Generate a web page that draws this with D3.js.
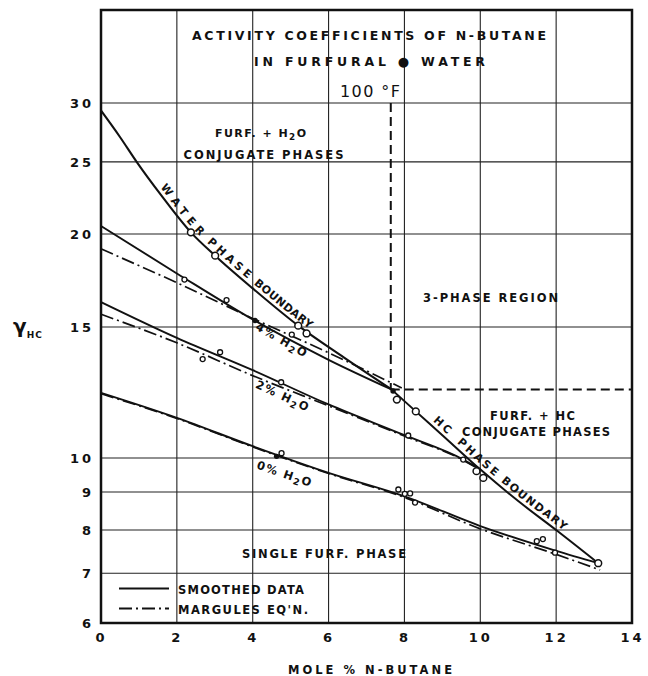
<!DOCTYPE html>
<html>
<head>
<meta charset="utf-8">
<script src="https://cdn.jsdelivr.net/npm/d3@7"></script>
<style>
  html, body { margin: 0; padding: 0; background: #fff; }
  svg { display: block; }
  text { font-family: "DejaVu Sans", "Liberation Sans", sans-serif; fill: #111; }
</style>
</head>
<body>
<svg id="chart" width="648" height="676"></svg>
<script>
// Axis ticks
const xTicks = [0, 2, 4, 6, 8, 10, 12, 14];
const yTicks = [6, 7, 8, 9, 10, 15, 20, 25, 30];

// Phase boundaries (solid) — [mole % n-butane, gamma]
const waterBoundary = [[0, 29.3], [0.5, 27.0], [0.94, 25.0], [1.6, 22.5], [2.37, 20.1], [3.01, 18.7], [4, 16.9], [5.2, 15.06], [6.4, 13.65], [7.66, 12.36]];
const hcBoundary = [[7.66, 12.36], [8.3, 11.55], [9.0, 10.73], [9.99, 9.66], [11.0, 8.75], [12.0, 8.0], [13.11, 7.22]];

// Smoothed data at constant water content
const fourPct = [[0, 20.5], [2, 17.7], [4, 15.35], [6, 13.55], [7.66, 12.36]];
const twoPct = [[0, 16.2], [2, 14.5], [4, 13.12], [6, 11.8], [8, 10.73], [9.55, 9.95], [9.99, 9.66]];
const zeroPct = [[0, 12.23], [2, 11.32], [4, 10.37], [6, 9.55], [8, 8.88], [10, 8.1], [12, 7.5], [13.11, 7.22]];

// Margules equation curves
const fourPctM = [[0, 19.1], [2, 17.2], [4, 15.4], [6, 13.85], [7.93, 12.42]];
const twoPctM = [[0, 15.6], [2, 14.28], [4, 12.9], [6, 11.75], [8, 10.7], [9.55, 9.93], [9.99, 9.64]];
const zeroPctM = [[0, 12.2], [2, 11.3], [4, 10.35], [6, 9.53], [8, 8.85], [10, 8.03], [12, 7.42], [13.16, 7.07]];

// Experimental points
const boundaryPts = [[2.37, 20.1], [3.01, 18.7], [5.2, 15.06], [5.42, 14.7], [7.8, 11.98], [8.3, 11.55], [9.9, 9.6], [10.08, 9.4], [13.11, 7.22]];
const solutionPts = [[2.2, 17.37], [3.31, 16.3], [5.03, 14.65], [2.68, 13.58], [3.14, 13.87], [4.75, 12.64], [8.1, 10.72], [9.55, 9.95], [4.76, 10.15], [7.84, 9.07], [8.01, 8.95], [8.15, 8.96], [8.28, 8.71], [11.49, 7.73], [11.65, 7.78], [11.97, 7.46]];
const filledPts = [[4.06, 15.3], [4.63, 10.05], [7.7, 12.3]];

// Three-phase region corner
const threePhaseX = 7.64;
const threePhaseY = 12.36;
const threePhaseTop = 30;

const svg = d3.select("#chart");
const x = d3.scaleLinear().domain([0, 14]).range([101, 632]);
const y = d3.scaleLog().domain([6, 40]).range([623, 10]);
const ink = "#111";
const FONT = "DejaVu Sans, Liberation Sans, sans-serif";

// Grid
const grid = svg.append("g").attr("stroke", "#222").attr("stroke-width", 1.1);
grid.selectAll("line.v").data(xTicks).join("line")
  .attr("x1", d => x(d)).attr("x2", d => x(d))
  .attr("y1", y(40)).attr("y2", y(6));
grid.selectAll("line.h").data(yTicks).join("line")
  .attr("x1", x(0)).attr("x2", x(14))
  .attr("y1", d => y(d)).attr("y2", d => y(d));

// Frame
svg.append("rect")
  .attr("x", x(0)).attr("y", y(40))
  .attr("width", x(14) - x(0)).attr("height", y(6) - y(40))
  .attr("fill", "none").attr("stroke", ink).attr("stroke-width", 2.5);

// Axes
const xAxis = svg.append("g").attr("transform", `translate(0,${y(6)})`)
  .call(d3.axisBottom(x).tickValues(xTicks).tickSize(0).tickPadding(10).tickFormat(d3.format("d")));
const yAxis = svg.append("g").attr("transform", `translate(${x(0) - 7},0)`)
  .call(d3.axisLeft(y).tickValues(yTicks).tickSize(0).tickPadding(0).tickFormat(d3.format("d")));
[xAxis, yAxis].forEach(a => {
  a.select(".domain").remove();
  a.selectAll("text").attr("font-family", FONT)
    .attr("font-size", 13).attr("font-weight", "bold").attr("fill", ink)
    .attr("letter-spacing", 3);
});

// Three-phase region boundaries (dashed)
const dash = svg.append("g").attr("stroke", ink).attr("stroke-width", 2).attr("stroke-dasharray", "9,5").attr("fill", "none");
dash.append("line").attr("x1", x(threePhaseX)).attr("x2", x(threePhaseX)).attr("y1", y(threePhaseTop)).attr("y2", y(threePhaseY));
dash.append("line").attr("x1", x(threePhaseX)).attr("x2", x(14)).attr("y1", y(threePhaseY)).attr("y2", y(threePhaseY));

// Curves
const line = d3.line().x(d => x(d[0])).y(d => y(d[1])).curve(d3.curveMonotoneX);
const curves = svg.append("g").attr("fill", "none").attr("stroke", ink).attr("stroke-linecap", "round");
curves.append("path").attr("id", "waterPath").attr("d", line(waterBoundary)).attr("stroke-width", 2.1);
curves.append("path").attr("id", "hcPath").attr("d", line(hcBoundary)).attr("stroke-width", 2);
[fourPct, twoPct, zeroPct].forEach(s => curves.append("path").attr("d", line(s)).attr("stroke-width", 1.9));
[fourPctM, twoPctM, zeroPctM].forEach(s => curves.append("path").attr("d", line(s))
  .attr("stroke-width", 1.7).attr("stroke-dasharray", "13,4,2,4").attr("stroke-linecap", "butt"));

// Points
svg.append("g").selectAll("circle").data(boundaryPts).join("circle")
  .attr("cx", d => x(d[0])).attr("cy", d => y(d[1])).attr("r", 3.4)
  .attr("fill", "#fff").attr("stroke", ink).attr("stroke-width", 1.5);
svg.append("g").selectAll("circle").data(solutionPts).join("circle")
  .attr("cx", d => x(d[0])).attr("cy", d => y(d[1])).attr("r", 2.5)
  .attr("fill", "#fff").attr("stroke", ink).attr("stroke-width", 1.3);
svg.append("g").selectAll("circle").data(filledPts).join("circle")
  .attr("cx", d => x(d[0])).attr("cy", d => y(d[1])).attr("r", 2.7).attr("fill", ink);

// Helpers for lettering
function label(txt, cx, base, size, width, weight) {
  const t = svg.append("text").attr("x", cx).attr("y", base).attr("text-anchor", "middle")
    .attr("font-size", size).attr("font-weight", weight || "bold").text(txt);
  if (width) t.attr("textLength", width).attr("lengthAdjust", "spacing");
  return t;
}
function waterLabel(g, pre, post) {
  g.append("tspan").text(pre);
  g.append("tspan").attr("dy", 3).attr("font-size", "0.8em").text("2");
  g.append("tspan").attr("dy", -3).text(post);
}

// Title block
label("ACTIVITY COEFFICIENTS OF N-BUTANE", 369, 39.5, 12.5, 354);
const t2 = svg.append("text").attr("x", 254).attr("y", 65.5).attr("font-size", 12.5).attr("font-weight", "bold")
  .attr("textLength", 231).attr("lengthAdjust", "spacing");
t2.append("tspan").text("IN  FURFURAL  ");
t2.append("tspan").attr("font-size", 13).text("\u25CF");
t2.append("tspan").text("  WATER");
label("100 \u00B0F", 370, 96.5, 16, 60, "normal");

// Region labels
const furfH2O = svg.append("text").attr("x", 215).attr("y", 137).attr("font-size", 11).attr("font-weight", "bold")
  .attr("textLength", 91).attr("lengthAdjust", "spacing");
waterLabel(furfH2O, "FURF. + H", "O");
label("CONJUGATE PHASES", 263.5, 158.5, 11.5, 160);
label("3-PHASE REGION", 490.5, 301.5, 11.5, 135);
label("FURF. + HC", 532.5, 419.5, 11.5, 85);
label("CONJUGATE PHASES", 536, 435.5, 11.5, 148);
label("SINGLE FURF. PHASE", 324, 557.5, 11.5, 164);

// Lettering along the phase boundaries, one word at a time
function lengthAtX(node, px) {
  let lo = 0, hi = node.getTotalLength();
  for (let i = 0; i < 40; i++) {
    const mid = (lo + hi) / 2;
    if (node.getPointAtLength(mid).x < px) lo = mid; else hi = mid;
  }
  return lo;
}
function pathWord(id, txt, x0, x1, size) {
  const node = document.getElementById(id);
  const s = lengthAtX(node, x0);
  const tp = svg.append("text").attr("font-size", size).attr("font-weight", "bold").attr("dy", -4)
    .append("textPath").attr("href", "#" + id).attr("startOffset", s).text(txt);
  if (x1) tp.attr("textLength", lengthAtX(node, x1) - s).attr("lengthAdjust", "spacing");
  else tp.attr("letter-spacing", 2.5);
}
pathWord("waterPath", "WATER", 157, 197, 11);
pathWord("waterPath", "PHASE", 204, 245, 11);
pathWord("waterPath", "BOUNDARY", 251, 307, 11);
pathWord("hcPath", "HC", 430, null, 11);
pathWord("hcPath", "PHASE", 454, 492, 11);
pathWord("hcPath", "BOUNDARY", 498, 561, 11);

// Water-content labels under each curve
function pctLabel(txt, cx, cy, angle) {
  const t = svg.append("text").attr("text-anchor", "middle").attr("dominant-baseline", "central")
    .attr("font-size", 11.5).attr("font-weight", "bold").attr("letter-spacing", 1.5)
    .attr("transform", `translate(${cx},${cy}) rotate(${angle})`);
  waterLabel(t, txt + " H", "O");
}
pctLabel("4%", 282, 340, 30);
pctLabel("2%", 283, 396, 25);
pctLabel("0%", 285, 474, 19);

// Legend
const lg = svg.append("g").attr("stroke", ink).attr("stroke-width", 1.9);
lg.append("line").attr("x1", 119).attr("x2", 169).attr("y1", 588.5).attr("y2", 588.5);
lg.append("line").attr("x1", 119).attr("x2", 169).attr("y1", 608.5).attr("y2", 608.5).attr("stroke-dasharray", "13,4,2,4");
svg.append("text").attr("x", 178).attr("y", 594).attr("font-size", 11.5).attr("font-weight", "bold")
  .attr("textLength", 126).attr("lengthAdjust", "spacing").text("SMOOTHED DATA");
svg.append("text").attr("x", 178).attr("y", 613.5).attr("font-size", 11.5).attr("font-weight", "bold")
  .attr("textLength", 130).attr("lengthAdjust", "spacing").text("MARGULES EQ'N.");

// Axis titles
label("MOLE % N-BUTANE", 370, 673.5, 11.5, 164);
const yt = svg.append("text").attr("x", 13).attr("y", 333).attr("font-size", 20).attr("font-weight", "bold")
  .attr("font-family", "DejaVu Serif, serif");
yt.append("tspan").text("\u03B3");
yt.append("tspan").attr("dy", 5).attr("font-size", 9).attr("font-family", FONT)
  .attr("font-weight", "bold").attr("letter-spacing", 1).text("HC");
</script>
</body>
</html>
